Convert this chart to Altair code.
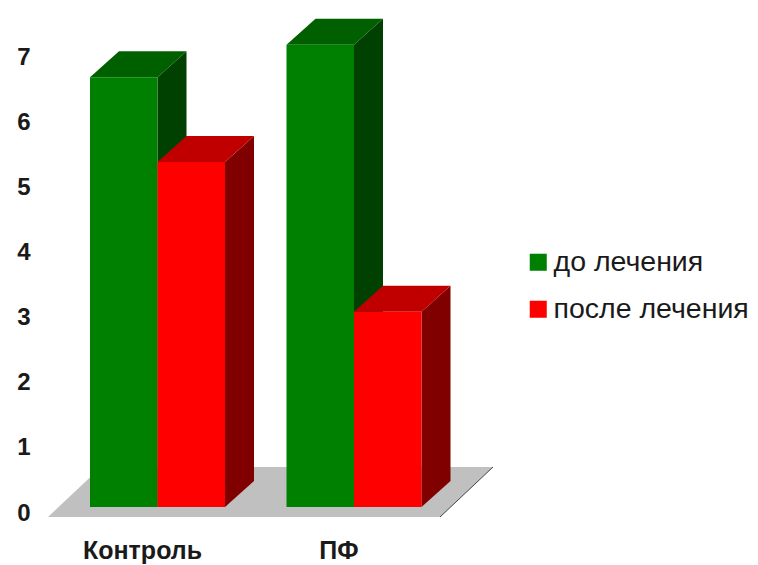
import altair as alt
import pandas as pd

categories = ["Контроль", "ПФ"]
series = ["до лечения", "после лечения"]
before = [6.6, 7.1]
after = [5.3, 3.0]
ticks = [0, 1, 2, 3, 4, 5, 6, 7]

# layout of the pseudo-3D drawing (x unit = one pixel of the picture)
GROUP_LEFT = [90, 286.5]
BAR_W = 67.5
DX, DY = 29, 26 / 65.1
PX = 65.1
W, H = 742, 557
BASE = 499
FLOOR_BOTTOM = -10 / PX
FLOOR_TOP = 40 / PX
FLOOR_X = (48, 440)
FLOOR_DX = 53

xs = alt.Scale(domain=[8, 8 + W], range=[0, W], nice=False, zero=False)
ys = alt.Scale(domain=[(BASE - H) / PX, BASE / PX], range=[H, 0], nice=False, zero=False)
yaxis = alt.Axis(
    values=ticks, title=None, domain=False, ticks=False, grid=False,
    offset=-22, labelPadding=0, labelAlign="right", labelOffset=6,
    labelFont="Liberation Sans", labelFontSize=24, labelColor="#1a1a1a",
    labelFontWeight="bold",
)


def frames(vals, offset):
    front, side, top = [], [], []
    for cat, left, v in zip(categories, GROUP_LEFT, vals):
        l = left + offset * BAR_W
        r = l + BAR_W
        front.append(dict(c=cat, l=l, r=r, v=v, b=0))
        side += [dict(c=cat, x=r, y=v, y2=0), dict(c=cat, x=r + DX, y=v + DY, y2=DY)]
        top += [dict(c=cat, y=v, x=l, x2=r), dict(c=cat, y=v + DY, x=l + DX, x2=r + DX)]
    return pd.DataFrame(front), pd.DataFrame(side), pd.DataFrame(top)


def bar_layers(vals, offset, name, front_col_side, top_col):
    f, s, t = frames(vals, offset)
    f["series"] = name
    side = alt.Chart(s).mark_area(color=front_col_side, interpolate="linear").encode(
        x=alt.X("x:Q", scale=xs, axis=None),
        y=alt.Y("y:Q", scale=ys, axis=yaxis),
        y2="y2:Q",
        detail="c:N",
    )
    tp = alt.Chart(t).mark_area(color=top_col, orient="horizontal", interpolate="linear").encode(
        y=alt.Y("y:Q", scale=ys, axis=yaxis),
        x=alt.X("x:Q", scale=xs, axis=None),
        x2="x2:Q",
        detail="c:N",
    )
    fr = alt.Chart(f).mark_rect().encode(
        x=alt.X("l:Q", scale=xs, axis=None),
        x2="r:Q",
        y=alt.Y("v:Q", scale=ys, axis=yaxis),
        y2="b:Q",
        color=alt.Color(
            "series:N",
            scale=alt.Scale(domain=series, range=["#008000", "#ff0000"]),
            legend=alt.Legend(
                title=None, orient="none", legendX=516, legendY=240,
                symbolType="square", symbolSize=290, symbolStrokeWidth=0,
                labelFont="Liberation Sans", labelFontSize=28.5, labelColor="#1a1a1a",
                labelOffset=1, rowPadding=18, labelLimit=260,
            ),
        ),
    )
    return [side, tp, fr]


floor_df = pd.DataFrame([
    dict(y=FLOOR_BOTTOM, x=FLOOR_X[0], x2=FLOOR_X[1]),
    dict(y=FLOOR_TOP, x=FLOOR_X[0] + FLOOR_DX, x2=FLOOR_X[1] + FLOOR_DX),
])
floor = alt.Chart(floor_df).mark_area(color="#c0c0c0", orient="horizontal").encode(
    y=alt.Y("y:Q", scale=ys, axis=yaxis),
    x=alt.X("x:Q", scale=xs, axis=None),
    x2="x2:Q",
)
edge = alt.Chart(floor_df).mark_line(color="#444444", strokeWidth=1).encode(
    x=alt.X("x2:Q", scale=xs, axis=None),
    y=alt.Y("y:Q", scale=ys, axis=yaxis),
)

label_df = pd.DataFrame(dict(c=categories, x=[l + BAR_W - 15 for l in GROUP_LEFT]))
labels = alt.Chart(label_df).mark_text(
    font="Liberation Sans", fontSize=25, fontWeight="bold", color="#1a1a1a", align="center", baseline="middle",
).encode(
    x=alt.X("x:Q", scale=xs, axis=None),
    y=alt.value(543),
    text="c:N",
)

layers = [floor, edge]
layers += bar_layers(before, 0, series[0], "#004000", "#006000")
layers += bar_layers(after, 1, series[1], "#800000", "#c00000")
layers += [labels]

chart = alt.layer(*layers).properties(
    width=W, height=H, padding=0,
    autosize=alt.AutoSizeParams(type="none"),
    background="white",
).configure_view(stroke=None)

chart.save("out.html", embed_options={"renderer": "svg", "actions": False})
